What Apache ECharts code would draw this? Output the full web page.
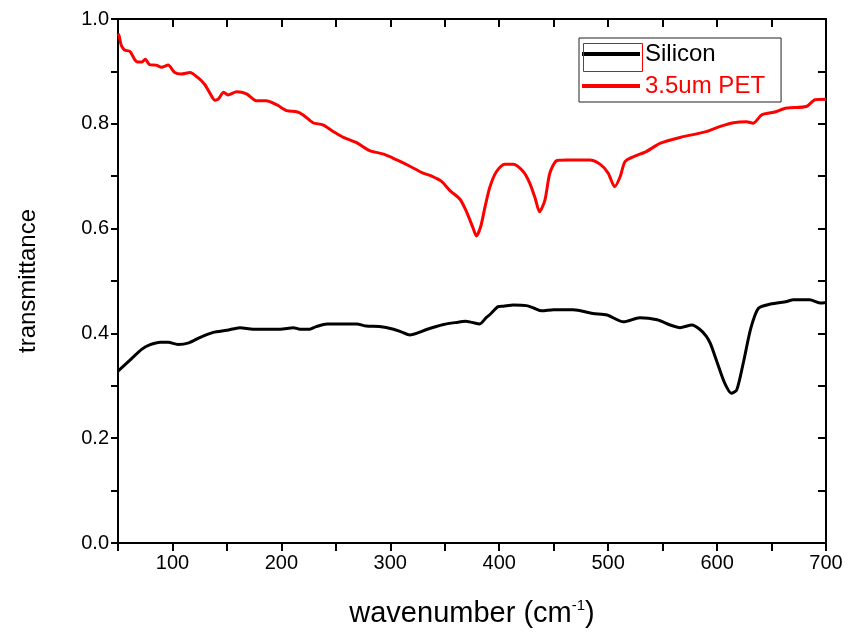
<!DOCTYPE html>
<html>
<head>
<meta charset="utf-8">
<script src="https://cdn.jsdelivr.net/npm/echarts@6/dist/echarts.min.js"></script>
<style>html,body{margin:0;padding:0;background:#fff}#c{width:848px;height:644px}</style>
</head>
<body>
<div id="c"></div>
<script>
var seriesNames = ['Silicon', '3.5um PET'];
var xTicks = [100, 200, 300, 400, 500, 600, 700];
var yTicks = [0.0, 0.2, 0.4, 0.6, 0.8, 1.0];

var petWn = [50,51,53,56,61,65.5,68,72,75,79,85,90,96,102,108,116,124,130,134.5,139,142,147,151,159,168,177,186,196,205,214,220,229,238,248,257,269,281,294,306,318,329,338,347,355,364,370,376,379,383,387,391.5,397.5,405,413,422,428,433,437,442,446.5,453,462,483,492.5,500,506,511,515.5,523,535,548,566,590,603,615,627,633,641,652,664,682,690,700];
var petT = [0.972,0.968,0.950,0.941,0.938,0.922,0.918,0.918,0.923,0.913,0.912,0.908,0.912,0.898,0.895,0.898,0.887,0.874,0.858,0.845,0.847,0.860,0.855,0.861,0.857,0.844,0.844,0.836,0.825,0.823,0.817,0.802,0.798,0.785,0.774,0.764,0.749,0.742,0.731,0.719,0.707,0.700,0.690,0.672,0.656,0.632,0.601,0.586,0.604,0.642,0.680,0.709,0.723,0.723,0.709,0.687,0.658,0.632,0.655,0.706,0.730,0.731,0.731,0.723,0.706,0.680,0.699,0.728,0.737,0.747,0.763,0.774,0.785,0.795,0.802,0.804,0.801,0.817,0.822,0.830,0.833,0.846,0.847];

var siWn = [50,51,61,72,79,89,96,105,115,125,137.5,150,162,174,199,211,217,226,232,242,269,278,290,303,310,318,324,334,349,361,369,375,382,388,392,399,404,413,425,432,439,450,468,486,499,514,529,545,557,566,577,584,590,594,600,607,613,618,624,631,638,649,664,670,685,694.5,700];
var siT = [0.328,0.330,0.349,0.370,0.378,0.383,0.383,0.379,0.382,0.392,0.402,0.406,0.411,0.408,0.408,0.411,0.408,0.408,0.413,0.418,0.418,0.414,0.413,0.408,0.403,0.397,0.400,0.408,0.417,0.421,0.423,0.421,0.418,0.430,0.437,0.451,0.452,0.454,0.453,0.448,0.443,0.445,0.445,0.438,0.435,0.422,0.430,0.426,0.416,0.411,0.416,0.408,0.395,0.380,0.345,0.305,0.286,0.292,0.343,0.410,0.448,0.456,0.461,0.464,0.464,0.458,0.459];

function pairs(xs, ys) { return xs.map(function (x, i) { return [x, ys[i]]; }); }

var font = 'Liberation Sans, Arial, sans-serif';
var chart = echarts.init(document.getElementById('c'), null, { renderer: 'canvas' });
chart.setOption({
  animation: false,
  backgroundColor: '#fff',
  grid: { left: 118, right: 22, top: 19, bottom: 101, containLabel: false },
  legend: {
    orient: 'vertical', left: 579, top: 38,
    icon: 'rect', itemWidth: 58, itemHeight: 4, itemGap: 8,
    borderColor: '#222', borderWidth: 1, padding: [4, 16, 4, 3],
    textStyle: { fontFamily: font, fontSize: 24, color: '#000' },
    data: [
      { name: seriesNames[0], textStyle: { color: '#000' } },
      { name: seriesNames[1], textStyle: { color: '#f00' } }
    ]
  },
  graphic: [{
    type: 'rect', left: 581, top: 41, z: 100,
    shape: { width: 59, height: 28 },
    style: { fill: 'none', stroke: '#f00', lineWidth: 1 }
  }],
  xAxis: [{
    type: 'value', min: 50, max: 700, interval: 50,
    name: '{a|wavenumber (cm}{s|-1}{a|)}', nameLocation: 'middle', nameGap: 55,
    nameTextStyle: { rich: {
      a: { fontFamily: font, fontSize: 29, color: '#000', lineHeight: 32 },
      s: { fontFamily: font, fontSize: 15, color: '#000', verticalAlign: 'top', lineHeight: 32, padding: [0, 0, 14, 0] }
    } },
    axisLine: { show: true, onZero: false, lineStyle: { color: '#000', width: 2 } },
    axisTick: { show: true, inside: false, length: 8, lineStyle: { color: '#000', width: 2 } },
    axisLabel: {
      margin: 10, fontFamily: font, fontSize: 20, color: '#000',
      formatter: function (v) { return xTicks.indexOf(v) >= 0 ? String(v) : ''; }
    },
    splitLine: { show: false }
  }, {
    type: 'value', position: 'top', min: 50, max: 700, interval: 50,
    axisLine: { show: true, onZero: false, lineStyle: { color: '#000', width: 2 } },
    axisTick: { show: true, inside: true, length: 8, lineStyle: { color: '#000', width: 2 } },
    axisLabel: { show: false }, splitLine: { show: false }
  }],
  yAxis: [{
    type: 'value', min: 0, max: 1, interval: 0.1,
    name: 'transmittance', nameLocation: 'middle', nameGap: 78,
    nameTextStyle: { fontFamily: font, fontSize: 24, color: '#000' },
    axisLine: { show: true, onZero: false, lineStyle: { color: '#000', width: 2 } },
    axisTick: { show: true, inside: false, length: 7, lineStyle: { color: '#000', width: 2 } },
    axisLabel: {
      margin: 9, fontFamily: font, fontSize: 20, color: '#000',
      formatter: function (v) {
        var r = Math.round(v * 10) / 10;
        for (var i = 0; i < yTicks.length; i++) { if (Math.abs(yTicks[i] - r) < 1e-9) return r.toFixed(1); }
        return '';
      }
    },
    splitLine: { show: false }
  }, {
    type: 'value', position: 'right', min: 0, max: 1, interval: 0.1,
    axisLine: { show: true, onZero: false, lineStyle: { color: '#000', width: 2 } },
    axisTick: { show: true, inside: true, length: 8, lineStyle: { color: '#000', width: 2 } },
    axisLabel: { show: false }, splitLine: { show: false }
  }],
  series: [{
    name: seriesNames[0], type: 'line', xAxisIndex: 0, yAxisIndex: 0,
    data: pairs(siWn, siT), showSymbol: false, smooth: 0.25,
    lineStyle: { color: '#000', width: 3 }, itemStyle: { color: '#000' }
  }, {
    name: seriesNames[1], type: 'line', xAxisIndex: 0, yAxisIndex: 0,
    data: pairs(petWn, petT), showSymbol: false, smooth: 0.25,
    lineStyle: { color: '#f00', width: 3 }, itemStyle: { color: '#f00' }
  }]
});
</script>
</body>
</html>
